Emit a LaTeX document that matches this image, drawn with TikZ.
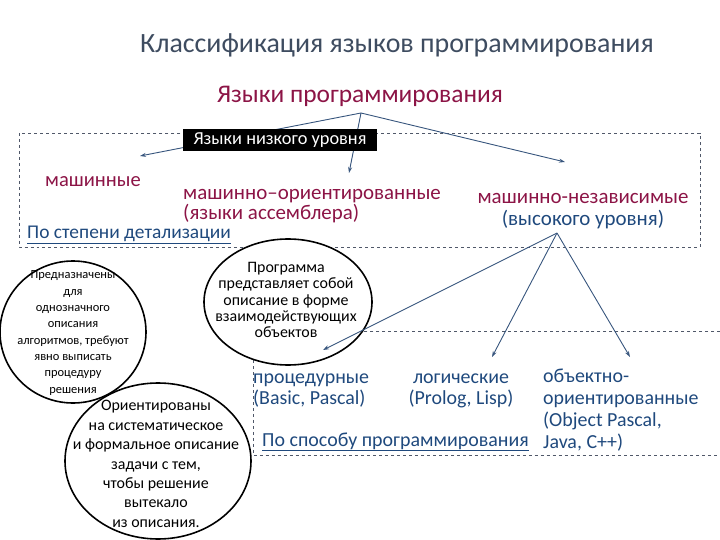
\documentclass[tikz,border=0pt]{standalone}
\usepackage{fontspec}
\setmainfont{Carlito}
\usetikzlibrary{arrows.meta}

\definecolor{headgray}{RGB}{62,76,96}
\definecolor{langred}{RGB}{140,20,70}
\definecolor{langblue}{RGB}{31,73,125}
\definecolor{arrowblue}{RGB}{55,85,125}
\definecolor{framegray}{RGB}{80,88,105}

\tikzset{
  redlabel/.style={text=langred, inner sep=0pt, font=\fontsize{21}{21}\selectfont},
  bluelabel/.style={text=langblue, inner sep=0pt, font=\fontsize{20}{21}\selectfont},
  linklabel/.style={text=langblue, inner sep=0pt},
  branch/.style={draw=arrowblue, line width=0.9pt, -{Stealth[length=6pt,width=4pt]}},
  groupframe/.style={draw=framegray, dashed, line width=0.5pt},
  bubble/.style={draw=black, line width=1.6pt, fill=white},
  bubbletext/.style={inner sep=0pt, align=center}
}

\begin{document}
\begin{tikzpicture}[x=1bp, y=-1bp]
  \useasboundingbox (0,0) rectangle (720,540);

  % headings
  \node[text=headgray, inner sep=0pt, anchor=base, font=\fontsize{28}{30}\selectfont] (title) at (397,53) {Классификация языков программирования};
  \node[redlabel, anchor=base, font=\fontsize{25.5}{27}\selectfont] (root) at (360,103) {Языки программирования};
  \coordinate (split) at (361,113);

  % frames
  \draw[groupframe] (19,133) rectangle (700,247);
  \draw[groupframe] (720,331) -- (253,331) -- (253,455) -- (720,455);

  % level 1
  \node[redlabel, anchor=base west, font=\fontsize{20.6}{21}\selectfont] (mach) at (45,187) {машинные};
  \node[redlabel, anchor=base west, align=left] (asm) at (183,220) {машинно–ориентированные\\(языки ассемблера)};
  \node[redlabel, anchor=base, align=center, font=\fontsize{21}{23}\selectfont] (high) at (583,226) {машинно-независимые\\\textcolor{langblue}{(высокого уровня)}};
  \node[linklabel, anchor=base west, font=\fontsize{19.5}{20}\selectfont] (bydetail) at (27,239) {\underline{По степени детализации}};

  \coordinate (machend) at (140,156);
  \coordinate (asmend) at (349,173);
  \coordinate (highend) at (565,162);
  \draw[branch] (split) -- (machend);
  \draw[branch] (split) -- (asmend);
  \draw[branch] (split) -- (highend);
  \node[fill=black, text=white, inner sep=0pt, minimum width=194bp, minimum height=22bp, font=\fontsize{18.4}{19}\selectfont] (low) at (280,140) {Языки низкого уровня};

  % bubbles
  \draw[bubble] (73,332) ellipse (73 and 71);
  \draw[bubble] (288,302) ellipse (84 and 63);
  \draw[bubble] (158,461) ellipse (93 and 78);
  \node[bubbletext, font=\fontsize{12.5}{16.4}\selectfont] (purpose) at (73,333) {Предназначены\\для\\однозначного\\описания\\алгоритмов, требуют\\явно выписать\\процедуру\\решения};
  \node[bubbletext, font=\fontsize{16}{16.5}\selectfont] (objnote) at (286,300) {Программа\\представляет собой\\описание в форме\\взаимодействующих\\объектов};
  \node[bubbletext, font=\fontsize{16}{19.5}\selectfont] (declnote) at (156,464) {Ориентированы\\на систематическое\\и формальное описание\\задачи с тем,\\чтобы решение\\вытекало\\из описания.};

  % level 2
  \coordinate (fan) at (557,233);
  \node[bluelabel, anchor=base west, align=left] (proc) at (253,404) {процедурные\\(Basic, Pascal)};
  \node[bluelabel, anchor=base, align=center] (logic) at (461,404) {логические\\(Prolog, Lisp)};
  \node[bluelabel, anchor=base west, align=left, font=\fontsize{20}{22}\selectfont] (oop) at (543,448) {объектно-\\ориентированные\\(Object Pascal,\\Java, C++)};
  \node[linklabel, anchor=base west, font=\fontsize{20}{21}\selectfont] (bystyle) at (262,446) {\underline{По способу программирования}};

  \coordinate (procend) at (323,350);
  \coordinate (logicend) at (492,357);
  \coordinate (oopend) at (630,357);
  \draw[branch] (fan) -- (procend);
  \draw[branch] (fan) -- (logicend);
  \draw[branch] (fan) -- (oopend);
\end{tikzpicture}
\end{document}
